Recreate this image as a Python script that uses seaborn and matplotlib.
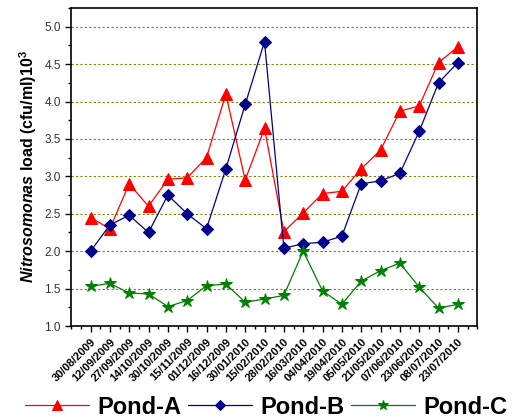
import matplotlib
matplotlib.use("Agg")
import matplotlib.pyplot as plt
from matplotlib.ticker import MultipleLocator
import pandas as pd
import seaborn as sns

dates = ["30/08/2009", "12/09/2009", "27/09/2009", "14/10/2009", "30/10/2009",
         "15/11/2009", "01/12/2009", "16/12/2009", "30/01/2010", "15/02/2010",
         "28/02/2010", "16/03/2010", "04/04/2010", "19/04/2010", "05/05/2010",
         "21/05/2010", "07/06/2010", "23/06/2010", "08/07/2010", "23/07/2010"]
pond_a = [2.45, 2.30, 2.90, 2.60, 2.96, 2.98, 3.25, 4.10, 2.95, 3.64,
          2.26, 2.51, 2.77, 2.80, 3.10, 3.35, 3.87, 3.94, 4.52, 4.73]
pond_b = [2.00, 2.35, 2.48, 2.25, 2.75, 2.50, 2.30, 3.10, 3.96, 4.80,
          2.04, 2.10, 2.12, 2.20, 2.90, 2.94, 3.04, 3.60, 4.25, 4.52]
pond_c = [1.53, 1.57, 1.44, 1.43, 1.26, 1.34, 1.54, 1.56, 1.32, 1.36,
          1.41, 2.00, 1.47, 1.29, 1.60, 1.74, 1.84, 1.52, 1.24, 1.29]


def build_frame():
    # one column per pond, numeric position as x
    df = pd.DataFrame({"Date": dates, "Pond-A": pond_a,
                       "Pond-B": pond_b, "Pond-C": pond_c})
    df["pos"] = range(len(dates))
    return df


def plot_data(df):
    sns.set_style("ticks")
    plt.rcParams["font.family"] = ["Liberation Sans", "DejaVu Sans"]
    plt.rcParams["text.color"] = "black"
    plt.rcParams["axes.labelcolor"] = "black"
    plt.rcParams["xtick.color"] = "black"
    plt.rcParams["ytick.color"] = "black"
    plt.rcParams["mathtext.fontset"] = "custom"
    plt.rcParams["mathtext.it"] = "Liberation Sans:italic:bold"
    plt.rcParams["mathtext.rm"] = "Liberation Sans:bold"

    fig = plt.figure(figsize=(5.12, 4.18), dpi=100)
    ax = fig.add_axes([0.139, 0.22, 0.793, 0.761])

    styles = [("Pond-A", "red", "^", 8), ("Pond-B", "#00008B", "D", 6),
              ("Pond-C", "green", "*", 9)]
    for name, color, marker, ms in styles:
        sns.lineplot(data=df, x="pos", y=name, ax=ax, color=color, lw=0.9,
                     marker=marker, markersize=ms, markeredgecolor=color,
                     label=name, legend=False)

    ax.set_xlim(-1, 20)
    ax.set_ylim(1.0, 5.25)
    ax.set_xticks(df["pos"])
    ax.set_xticklabels(dates, rotation=45, ha="right", rotation_mode="anchor",
                       fontsize=8, fontweight="bold")
    ax.xaxis.set_minor_locator(MultipleLocator(0.5))
    ax.yaxis.set_major_locator(MultipleLocator(0.5))
    ax.yaxis.set_minor_locator(MultipleLocator(0.25))
    ax.tick_params(axis="y", labelsize=8.5, labelcolor="#333333")
    ax.tick_params(which="major", length=4, width=1, direction="out")
    ax.tick_params(which="minor", length=2.5, width=1, direction="out")
    for v in [1.5, 2.0, 2.5, 3.0, 3.5, 4.0, 4.5, 5.0]:
        ax.axhline(v, color="#808000", ls=(0, (2, 2)), lw=0.8, zorder=0)

    for s in ax.spines.values():
        s.set_linewidth(1.2)
        s.set_color("black")

    ax.set_xlabel("")
    ax.set_ylabel(r"$\mathit{Nitrosomonas}$ load (cfu/ml)10$^3$",
                  fontsize=11.5, fontweight="bold", labelpad=4)

    handles, labels = ax.get_legend_handles_labels()
    fig.legend(handles, labels, loc="center", bbox_to_anchor=(0.52, 0.026),
               ncol=3, frameon=False, prop={"size": 17, "weight": "bold"},
               handlelength=2.7, handletextpad=0.35, columnspacing=0.3,
               markerscale=0.85)

    fig.savefig("out.png", dpi=100)


def main():
    df = build_frame()
    plot_data(df)


if __name__ == "__main__":
    main()
